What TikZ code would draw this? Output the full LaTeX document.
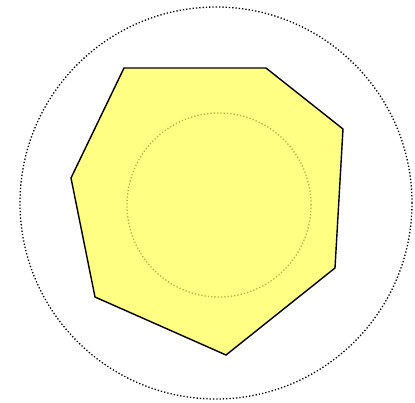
\documentclass[tikz,border=0pt]{standalone}
\begin{document}
\begin{tikzpicture}[x=1pt,y=-1pt,
  ring/.style={draw=black,line width=1.3pt,dash pattern=on 1.3pt off 2pt},
  poly/.style={draw=black,line width=1.4pt,line join=miter,fill={rgb,255:red,255;green,255;blue,80},fill opacity=0.7}]
\useasboundingbox (0,0) rectangle (415,402);
\node[ring,circle,minimum size=392pt,inner sep=0pt] (outer) at (216,203) {};
\node[ring,circle,minimum size=184pt,inner sep=0pt] (inner) at (219,205) {};
\coordinate (p1) at (124,68);
\coordinate (p2) at (266,68);
\coordinate (p3) at (343,129);
\coordinate (p4) at (335,268);
\coordinate (p5) at (226,355);
\coordinate (p6) at (95,297);
\coordinate (p7) at (71,178);
\draw[poly] (p1) -- (p2) -- (p3) -- (p4) -- (p5) -- (p6) -- (p7) -- cycle;
\end{tikzpicture}
\end{document}
